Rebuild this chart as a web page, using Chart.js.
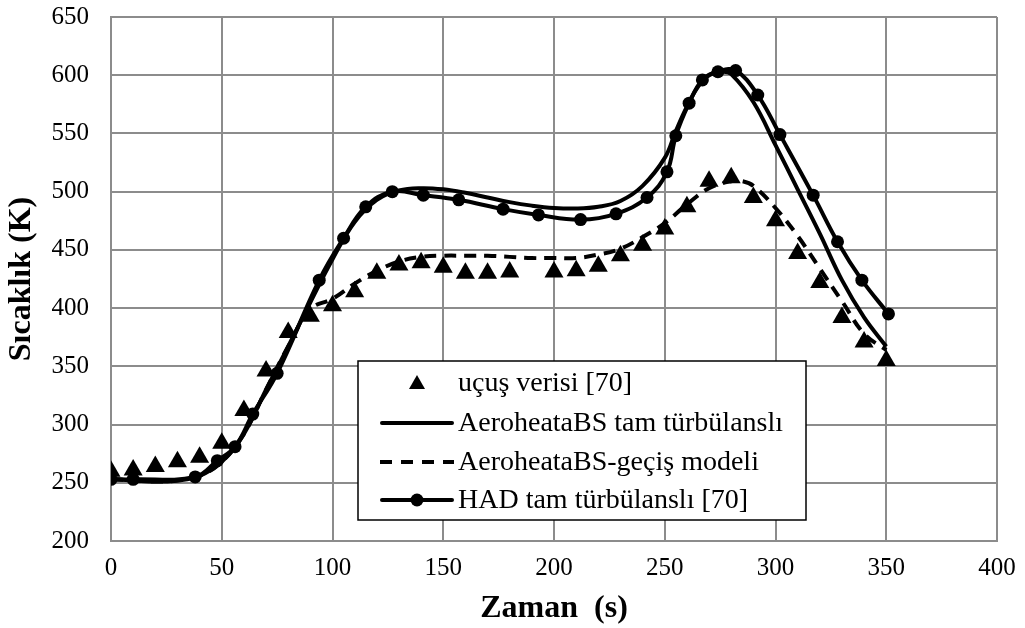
<!DOCTYPE html>
<html>
<head>
<meta charset="utf-8">
<script src="https://cdn.jsdelivr.net/npm/chart.js@4.4.1/dist/chart.umd.min.js"></script>
<style>
  html, body { margin: 0; padding: 0; background: #fff; }
</style>
</head>
<body>
<canvas id="myChart" width="1025" height="628"></canvas>
<script>
/* global Chart */

// flight data (triangles)
const flightX = [0, 10, 20, 30, 40, 50, 60, 70, 80, 90, 100, 110, 120, 130, 140, 150, 160, 170, 180, 200, 210, 220, 230, 240, 250, 260, 270, 280, 290, 300, 310, 320, 330, 340, 350];
const flightY = [260, 261, 264, 268, 272, 284, 312, 346, 379, 393, 402, 414, 430, 437, 439, 435, 430, 430, 431, 431, 432, 436, 445, 454, 468, 487, 509, 512, 495, 475, 447, 422, 392, 371, 355];

// AeroheataBS fully turbulent (solid line)
const aeroX = [0, 10, 20, 30, 40, 50, 60, 70, 80, 90, 100, 110, 120, 130, 140, 150, 160, 170, 180, 190, 200, 210, 220, 230, 240, 250, 255, 260, 265, 270, 276, 280, 290, 300, 310, 320, 330, 340, 350];
const aeroY = [253, 252, 251, 252, 256, 268, 292, 330, 367, 405, 442, 474, 493, 501, 503, 502, 499, 495, 491, 488, 486, 485.5, 487, 492, 505, 529, 552, 573, 590, 600, 603, 601, 577, 540, 502, 464, 424, 392, 367];

// AeroheataBS transition model (dashed line)
const transX = [0, 10, 20, 30, 40, 50, 60, 70, 80, 90, 100, 110, 120, 130, 140, 150, 160, 170, 180, 190, 200, 210, 220, 230, 240, 250, 260, 270, 280, 285, 290, 300, 310, 320, 330, 340, 350];
const transY = [253, 252, 251, 252, 256, 268, 292, 330, 367, 399, 408, 421, 432, 440, 444, 445, 445, 445, 444, 443, 443, 443, 446, 451, 461, 473, 489, 503, 509, 509, 505, 486, 462, 434, 406, 378, 364];

// HAD fully turbulent (line with circles)
const hadX = [0, 10, 38, 48, 56, 64, 75, 94, 105, 115, 127, 141, 157, 177, 193, 212, 228, 242, 251, 255, 261, 267, 274, 282, 292, 302, 317, 328, 339, 351];
const hadY = [253, 253, 255, 269, 281, 309, 344, 424, 460, 487, 500, 497, 493, 485, 480, 476, 481, 495, 517, 548, 576, 596, 603, 604, 583, 549, 497, 457, 424, 395];

const xTicks = [0, 50, 100, 150, 200, 250, 300, 350, 400];
const yTicks = [200, 250, 300, 350, 400, 450, 500, 550, 600, 650];

const seriesNames = ["uçuş verisi [70]", "AeroheataBS tam türbülanslı", "AeroheataBS-geçiş modeli", "HAD tam türbülanslı [70]"];

function pts(xs, ys) {
  return xs.map(function (x, i) {
    return { x: x, y: ys[i] };
  });
}

const FONT = "'Liberation Serif', 'Times New Roman', serif";
const GRID = "#8c8c8c";

// legend drawn inside the plot area
const legendBox = {
  id: "legendBox",
  afterDraw(chart) {
    const ctx = chart.ctx;
    const a = chart.chartArea;
    const left = a.left + 247;
    const top = a.top + 344;
    const w = 448;
    const h = 159;
    ctx.save();
    ctx.fillStyle = "#fff";
    ctx.fillRect(left, top, w, h);
    ctx.strokeStyle = "#000";
    ctx.lineWidth = 1.5;
    ctx.strokeRect(left, top, w, h);

    const rows = [top + 22, top + 62, top + 101, top + 139];
    const x0 = left + 24;
    const x1 = left + 94;
    const xm = (x0 + x1) / 2;

    // triangle
    ctx.fillStyle = "#000";
    ctx.beginPath();
    ctx.moveTo(xm, rows[0] - 8);
    ctx.lineTo(xm + 8, rows[0] + 6);
    ctx.lineTo(xm - 8, rows[0] + 6);
    ctx.closePath();
    ctx.fill();

    // solid
    ctx.lineWidth = 4;
    ctx.lineCap = "round";
    ctx.beginPath();
    ctx.moveTo(x0, rows[1]);
    ctx.lineTo(x1, rows[1]);
    ctx.stroke();

    // dashed
    ctx.setLineDash([12, 9]);
    ctx.lineCap = "butt";
    ctx.beginPath();
    ctx.moveTo(x0 - 2, rows[2]);
    ctx.lineTo(x1 + 2, rows[2]);
    ctx.stroke();
    ctx.setLineDash([]);

    // line with circle
    ctx.lineCap = "round";
    ctx.beginPath();
    ctx.moveTo(x0, rows[3]);
    ctx.lineTo(x1, rows[3]);
    ctx.stroke();
    ctx.beginPath();
    ctx.arc(xm, rows[3], 6.5, 0, Math.PI * 2);
    ctx.fill();

    ctx.font = "28px " + FONT;
    ctx.textBaseline = "middle";
    ctx.textAlign = "left";
    chart.data.datasets.forEach(function (ds, i) {
      ctx.fillText(ds.label, left + 100, rows[i] + 1);
    });
    ctx.restore();
  },
};

const ctx = document.getElementById("myChart").getContext("2d");
const myChart = new Chart(ctx, {
  type: "line",
  data: {
    datasets: [
      {
        label: seriesNames[0],
        data: pts(flightX, flightY),
        showLine: false,
        pointStyle: "triangle",
        pointRadius: 11,
        pointBackgroundColor: "#000",
        pointBorderColor: "#000",
        pointBorderWidth: 0,
        order: 4,
      },
      {
        label: seriesNames[1],
        data: pts(aeroX, aeroY),
        borderColor: "#000",
        borderWidth: 4,
        pointRadius: 0,
        tension: 0.4,
        fill: false,
        order: 2,
      },
      {
        label: seriesNames[2],
        data: pts(transX, transY),
        borderColor: "#000",
        borderWidth: 4,
        borderDash: [12, 8],
        pointRadius: 0,
        tension: 0.4,
        fill: false,
        order: 3,
      },
      {
        label: seriesNames[3],
        data: pts(hadX, hadY),
        borderColor: "#000",
        borderWidth: 4,
        pointRadius: 6.5,
        pointBackgroundColor: "#000",
        pointBorderColor: "#000",
        pointBorderWidth: 0,
        tension: 0.4,
        fill: false,
        order: 1,
      },
    ],
  },
  options: {
    responsive: false,
    animation: false,
    layout: {
      padding: { left: 0, top: 17, right: 28, bottom: 0 },
    },
    plugins: {
      legend: { display: false },
      tooltip: { enabled: false },
    },
    scales: {
      x: {
        type: "linear",
        min: 0,
        max: 400,
        afterBuildTicks: function (scale) {
          scale.ticks = xTicks.map(function (v) {
            return { value: v };
          });
        },
        afterFit: function (scale) {
          scale.height = 87;
          scale.paddingLeft = 0;
          scale.paddingRight = 0;
        },
        grid: { color: GRID, lineWidth: 2, drawTicks: false },
        border: { color: GRID, width: 2 },
        ticks: {
          color: "#000",
          font: { family: FONT, size: 25 },
          padding: 12,
          maxRotation: 0,
        },
        title: {
          display: true,
          text: "Zaman  (s)",
          color: "#000",
          font: { family: FONT, size: 32, weight: "bold" },
          padding: { top: 5, bottom: 0 },
        },
      },
      y: {
        min: 200,
        max: 650,
        afterBuildTicks: function (scale) {
          scale.ticks = yTicks.map(function (v) {
            return { value: v };
          });
        },
        afterFit: function (scale) {
          scale.width = 111;
          scale.paddingTop = 0;
          scale.paddingBottom = 0;
        },
        grid: { color: GRID, lineWidth: 2, drawTicks: false },
        border: { color: GRID, width: 2 },
        ticks: {
          color: "#000",
          font: { family: FONT, size: 25 },
          padding: 22,
        },
        title: {
          display: true,
          text: "Sıcaklık (K)",
          color: "#000",
          font: { family: FONT, size: 32, weight: "bold" },
          padding: { top: 3, bottom: 0 },
        },
      },
    },
  },
  plugins: [legendBox],
});
</script>
</body>
</html>
